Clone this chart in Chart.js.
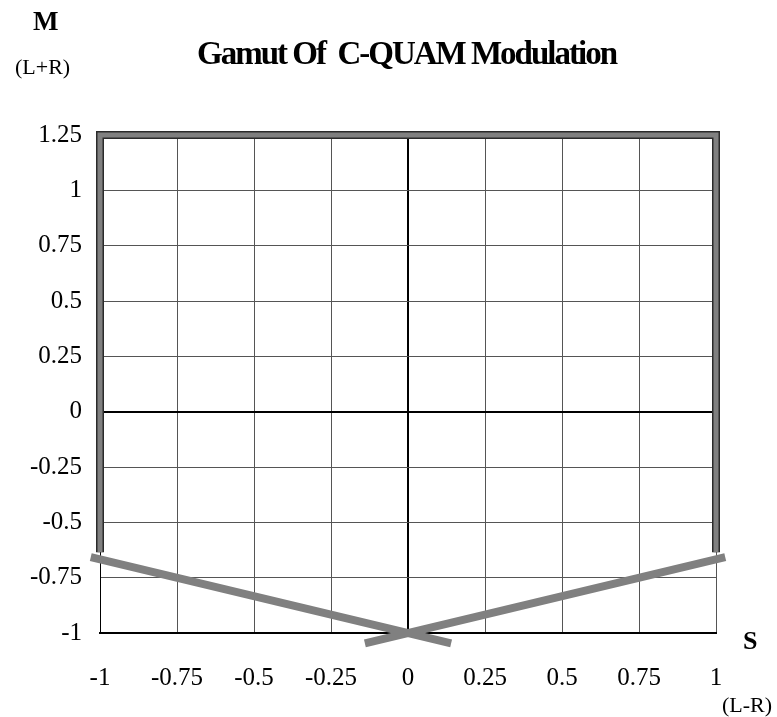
<!DOCTYPE html>
<html>
<head>
<meta charset="utf-8">
<script src="https://cdn.jsdelivr.net/npm/chart.js"></script>
<style>
  html, body { margin: 0; padding: 0; background: #fff; }
  #wrap { position: relative; width: 777px; height: 717px; }
  #chart { position: absolute; left: 0; top: 0; }
  .lbl { position: absolute; font-family: "Liberation Serif", "Times New Roman", serif; color: #000; white-space: nowrap; line-height: 1; }
  .bold { font-weight: bold; }
</style>
</head>
<body>
<div id="wrap">
  <canvas id="chart" width="777" height="717"></canvas>
  <div class="lbl bold" id="title" style="left:197px; top:37px; font-size:33px; letter-spacing:-2px;">Gamut Of&nbsp; C-QUAM Modulation</div>
  <div class="lbl bold" style="left:33px; top:8px; font-size:27px;">M</div>
  <div class="lbl" style="left:15px; top:56px; font-size:22px;">(L+R)</div>
  <div class="lbl bold" style="left:743px; top:628px; font-size:26px;">S</div>
  <div class="lbl" style="left:722px; top:694px; font-size:22px;">(L-R)</div>
</div>
<script>
  // axis ranges and ticks
  const X_TICKS = [-1, -0.75, -0.5, -0.25, 0, 0.25, 0.5, 0.75, 1];
  const Y_TICKS = [-1, -0.75, -0.5, -0.25, 0, 0.25, 0.5, 0.75, 1, 1.25];

  // gamut frame: left edge, top edge, right edge
  const FRAME_X = [-1, -1, 1, 1];
  const FRAME_Y = [-0.635, 1.25, 1.25, -0.635];

  // the two sloped lower edges crossing at (0, -1)
  const LEFT_EDGE_X = [-1.03, 0.14];
  const LEFT_EDGE_Y = [-0.657, -1.047];
  const RIGHT_EDGE_X = [1.03, -0.14];
  const RIGHT_EDGE_Y = [-0.657, -1.047];

  const GRAY = '#808080';

  function toPoints(xs, ys) {
    return xs.map((x, i) => ({ x, y: ys[i] }));
  }

  // higher `order` is drawn first (underneath)
  const datasets = [
    {
      data: toPoints(LEFT_EDGE_X, LEFT_EDGE_Y),
      borderColor: GRAY, borderWidth: 8, order: 1,
    },
    {
      data: toPoints(RIGHT_EDGE_X, RIGHT_EDGE_Y),
      borderColor: GRAY, borderWidth: 8, order: 1,
    },
    {
      data: toPoints(FRAME_X, FRAME_Y),
      borderColor: '#2a2a2a', borderWidth: 8, order: 3,
      borderJoinStyle: 'miter',
    },
    {
      data: toPoints(FRAME_X, FRAME_Y),
      borderColor: GRAY, borderWidth: 5, order: 2,
      borderJoinStyle: 'miter',
    },
  ].map((ds) => ({
    ...ds,
    showLine: true,
    pointRadius: 0,
    fill: false,
    clip: false,
    borderCapStyle: 'butt',
  }));

  const tickFont = { family: '"Liberation Serif", "Times New Roman", serif', size: 25 };

  function gridColor(ctx) {
    return ctx.tick && ctx.tick.value === 0 ? '#000' : '#555';
  }
  function gridWidth(ctx) {
    return ctx.tick && ctx.tick.value === 0 ? 2 : 1;
  }

  new Chart(document.getElementById('chart'), {
    type: 'scatter',
    data: { datasets },
    options: {
      responsive: false,
      animation: false,
      events: [],
      layout: { padding: { left: 0, right: 61, top: 135, bottom: 0 } },
      plugins: { legend: { display: false }, tooltip: { enabled: false }, title: { display: false } },
      scales: {
        x: {
          type: 'linear',
          min: -1, max: 1,
          afterBuildTicks: (scale) => { scale.ticks = X_TICKS.map((v) => ({ value: v })); },
          afterFit: (scale) => { scale.height = 84; },
          ticks: { font: tickFont, color: '#000', padding: 30, maxRotation: 0, callback: (v) => String(v) },
          grid: { color: gridColor, lineWidth: gridWidth, drawTicks: false },
          border: { display: true, color: '#000', width: 2 },
        },
        y: {
          type: 'linear',
          min: -1, max: 1.25,
          afterBuildTicks: (scale) => { scale.ticks = Y_TICKS.map((v) => ({ value: v })); },
          afterFit: (scale) => { scale.width = 100; },
          ticks: { font: tickFont, color: '#000', padding: 18, callback: (v) => String(v) },
          grid: { color: gridColor, lineWidth: gridWidth, drawTicks: false },
          border: { display: true, color: '#000', width: 1 },
        },
      },
    },
  });
</script>
</body>
</html>
